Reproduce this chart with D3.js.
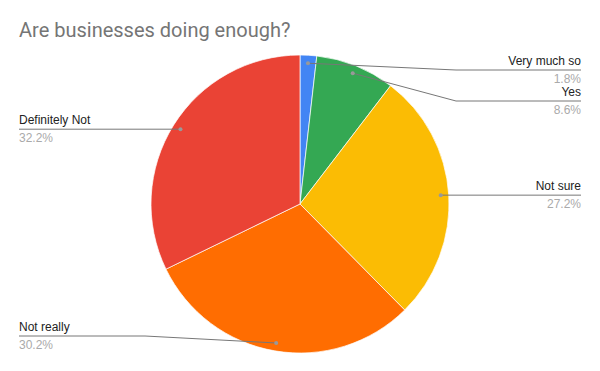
<!DOCTYPE html>
<html>
<head>
<meta charset="utf-8">
<script src="https://cdn.jsdelivr.net/npm/d3@7"></script>
<style>
  body { margin: 0; background: #fff; }
</style>
</head>
<body>
<div id="chart"></div>
<script>
// Data
const categories = ["Very much so", "Yes", "Not sure", "Not really", "Definitely Not"];
const values = [1.8, 8.6, 27.2, 30.2, 32.2];
const colors = ["#4285F4", "#34A853", "#FBBC04", "#FF6D01", "#EA4335"];
const title = "Are businesses doing enough?";

const width = 600;
const height = 371;
const cx = 300, cy = 204, radius = 149;

const svg = d3.select("#chart")
  .append("svg")
  .attr("width", width)
  .attr("height", height);

// Title
svg.append("text")
  .attr("x", 19)
  .attr("y", 37)
  .attr("font-family", "Roboto, Arial, sans-serif")
  .attr("font-size", 20)
  .attr("fill", "#757575")
  .text(title);

const data = categories.map((c, i) => ({ name: c, value: values[i], color: colors[i] }));

const pie = d3.pie()
  .sort(null)
  .value(d => d.value);

const arcs = pie(data);

const arc = d3.arc()
  .innerRadius(0)
  .outerRadius(radius);

const dotArc = d3.arc()
  .innerRadius(141)
  .outerRadius(141);

const g = svg.append("g")
  .attr("transform", `translate(${cx},${cy})`);

// Slices
g.selectAll("path.slice")
  .data(arcs)
  .enter()
  .append("path")
    .attr("class", "slice")
    .attr("d", arc)
    .attr("fill", d => d.data.color)
    .attr("stroke", "#fff")
    .attr("stroke-width", 0.7);

// Label layout: right side labels right-aligned, left side left-aligned
const labels = arcs.map(d => {
  const [dx, dy] = dotArc.centroid(d);
  const mid = (d.startAngle + d.endAngle) / 2;
  return { d, x: cx + dx, y: cy + dy, right: mid < Math.PI };
});

const minY = 70, maxY = 336, gap = 31;
["right", "left"].forEach(side => {
  const group = labels.filter(l => (side === "right") === l.right).sort((a, b) => a.y - b.y);
  let prev = -Infinity;
  group.forEach(l => {
    l.ly = Math.max(l.y, prev + gap, minY);
    prev = l.ly;
  });
  // push up from the bottom if needed
  let next = Infinity;
  for (let i = group.length - 1; i >= 0; i--) {
    const l = group[i];
    l.ly = Math.min(l.ly, next - gap, maxY);
    next = l.ly;
  }
});

labels.forEach(l => {
  const edgeX = l.right ? cx + radius + 7 : cx - radius - 6;
  const endX = l.right ? width - 19 : 19;
  const pts = Math.abs(l.ly - l.y) < 0.5
    ? [[l.x, l.y], [endX, l.ly]]
    : [[l.x, l.y], [edgeX, l.ly], [endX, l.ly]];

  svg.append("path")
    .attr("d", d3.line()(pts))
    .attr("fill", "none")
    .attr("stroke", "#777")
    .attr("stroke-width", 1);

  svg.append("circle")
    .attr("cx", l.x)
    .attr("cy", l.y)
    .attr("r", 2)
    .attr("fill", "#999");

  const anchor = l.right ? "end" : "start";
  svg.append("text")
    .attr("x", endX)
    .attr("y", l.ly - 5)
    .attr("text-anchor", anchor)
    .attr("font-family", "Arial, 'Liberation Sans', sans-serif")
    .attr("font-size", 12)
    .attr("fill", "#222")
    .text(l.d.data.name);

  svg.append("text")
    .attr("x", endX)
    .attr("y", l.ly + 13)
    .attr("text-anchor", anchor)
    .attr("font-family", "Arial, 'Liberation Sans', sans-serif")
    .attr("font-size", 12)
    .attr("fill", "#aaa")
    .text(l.d.data.value.toFixed(1) + "%");
});
</script>
</body>
</html>
